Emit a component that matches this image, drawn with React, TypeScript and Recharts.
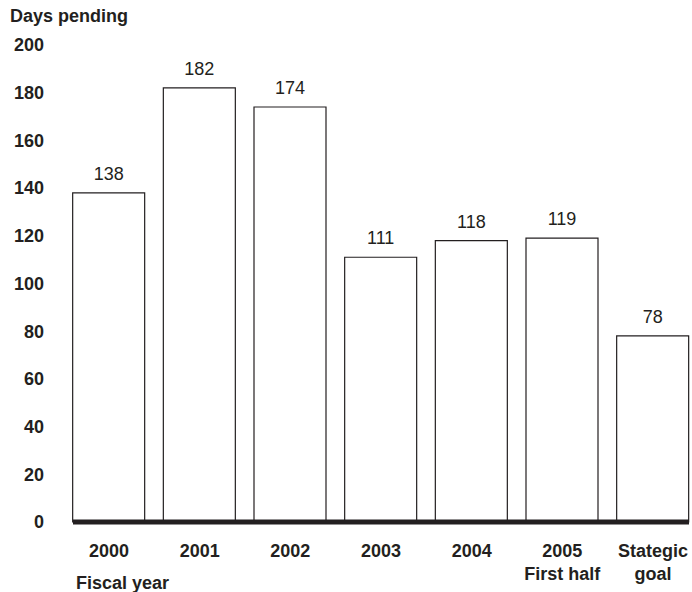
import React from 'react';
import { BarChart, Bar, XAxis, YAxis, LabelList } from 'recharts';

const categories = ['2000', '2001', '2002', '2003', '2004', '2005|First half', 'Stategic|goal'];
const daysPending = [138, 182, 174, 111, 118, 119, 78];
const yTicks = [0, 20, 40, 60, 80, 100, 120, 140, 160, 180, 200];

const data = categories.map((c, i) => ({ year: c, days: daysPending[i] }));

const font = '"Liberation Sans", Arial, Helvetica, sans-serif';
const ink = '#231f20';

// two-line category labels, split on "|"
const YearTick = ({ x, y, payload }: any) => {
  const lines = String(payload.value).split('|');
  return (
    <text x={x} y={y} textAnchor="middle" fill={ink} fontFamily={font} fontSize={18} fontWeight="bold">
      {lines.map((l, i) => (
        <tspan key={i} x={x} dy={i === 0 ? 27 : 23}>
          {l}
        </tspan>
      ))}
    </text>
  );
};

const App: React.FC = () => {
  return (
    <div style={{ position: 'absolute', left: 0, top: 0, width: 692, height: 592, background: '#fff', fontFamily: font }}>
      <div style={{ position: 'absolute', left: 10, top: 6, fontSize: 18, fontWeight: 'bold', color: ink }}>Days pending</div>
      <div style={{ position: 'absolute', left: 76, top: 573, fontSize: 18, fontWeight: 'bold', color: ink }}>Fiscal year</div>
      <BarChart width={692} height={592} data={data} margin={{ top: 45, right: 3, bottom: 0, left: 0 }}>
        <XAxis
          dataKey="year"
          height={70}
          padding={{ left: -9.33, right: -9.33 }}
          tickLine={false}
          axisLine={{ stroke: ink, strokeWidth: 5 }}
          tick={<YearTick />}
          interval={0}
        />
        <YAxis
          domain={[0, 200]}
          ticks={yTicks}
          width={73}
          axisLine={false}
          tickLine={false}
          tickMargin={23}
          tick={{ fill: ink, fontSize: 18, fontWeight: 'bold', fontFamily: font }}
        />
        <Bar dataKey="days" barSize={72} fill="#fff" stroke={ink} strokeWidth={1.2} isAnimationActive={false}>
          <LabelList dataKey="days" position="top" offset={13} fill={ink} fontSize={18} fontFamily={font} />
        </Bar>
      </BarChart>
    </div>
  );
};

export default App;
